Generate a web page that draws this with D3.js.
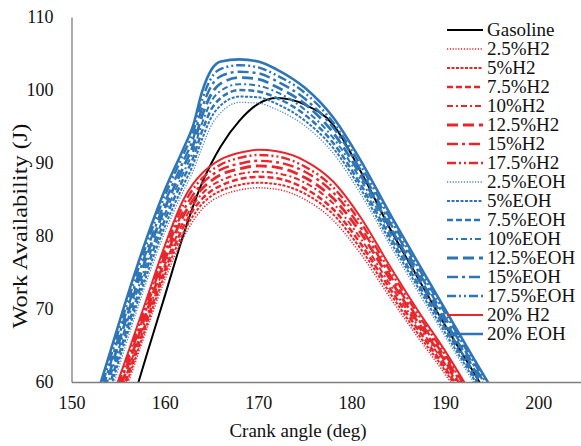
<!DOCTYPE html>
<html>
<head>
<meta charset="utf-8">
<script src="https://cdn.jsdelivr.net/npm/d3@7"></script>
<style>
  body { margin: 0; background: #fff; }
  svg { display: block; }
  text { font-family: "Liberation Serif", "Times New Roman", serif; fill: #111; }
</style>
</head>
<body>
<svg id="chart" width="581" height="446"></svg>
<script>
// Crank angle samples (deg) shared by every series
const crankAngles = [152, 154, 156, 158, 160, 162, 163, 164, 165, 166, 168, 170, 172, 175, 178, 181, 184, 187, 190, 193, 196];

// Work availability (J)
const gasoline = [38.0, 46.8, 55.0, 63.5, 71.8, 80.2, 84.0, 87.3, 90.0, 92.3, 95.8, 98.1, 98.9, 98.0, 95.3, 88.8, 81.3, 74.5, 67.8, 61.5, 55.0];

const h2_2_5  = [45.0, 52.5, 59.6, 67.0, 74.0, 79.8, 82.0, 83.7, 84.8, 85.5, 86.3, 86.6, 86.4, 85.0, 82.2, 77.5, 71.8, 66.3, 61.1, 55.2, 49.0];
const h2_5    = [45.6, 53.1, 60.2, 67.6, 74.7, 80.5, 82.7, 84.4, 85.5, 86.2, 87.0, 87.3, 87.1, 85.8, 83.0, 78.2, 72.4, 66.8, 61.6, 55.6, 49.4];
const h2_7_5  = [46.1, 53.6, 60.8, 68.2, 75.3, 81.3, 83.5, 85.1, 86.2, 86.9, 87.8, 88.1, 87.9, 86.5, 83.7, 78.9, 73.0, 67.4, 62.0, 56.0, 49.7];
const h2_10   = [46.7, 54.2, 61.4, 68.8, 76.0, 82.0, 84.2, 85.8, 86.9, 87.6, 88.5, 88.8, 88.6, 87.3, 84.5, 79.6, 73.6, 67.9, 62.5, 56.4, 50.1];
const h2_12_5 = [47.3, 54.8, 62.0, 69.4, 76.7, 82.8, 84.9, 86.5, 87.6, 88.4, 89.2, 89.6, 89.4, 88.0, 85.2, 80.4, 74.3, 68.4, 62.9, 56.8, 50.4];
const h2_15   = [47.9, 55.4, 62.6, 70.0, 77.4, 83.5, 85.6, 87.2, 88.3, 89.1, 89.9, 90.3, 90.1, 88.8, 86.0, 81.1, 74.9, 68.9, 63.4, 57.2, 50.8];
const h2_17_5 = [48.4, 55.9, 63.2, 70.6, 78.0, 84.3, 86.4, 87.9, 89.0, 89.8, 90.7, 91.1, 90.9, 89.5, 86.7, 81.8, 75.5, 69.5, 63.8, 57.6, 51.1];
const h2_20   = [49.0, 56.5, 63.8, 71.2, 78.7, 85.0, 87.1, 88.6, 89.7, 90.5, 91.4, 91.8, 91.6, 90.3, 87.5, 82.5, 76.1, 70.0, 64.3, 58.0, 51.5];

const eoh_2_5  = [49.2, 57.5, 65.8, 73.6, 80.5, 86.2, 88.8, 92.2, 95.2, 96.9, 98.3, 98.2, 97.3, 95.1, 91.4, 85.7, 79.0, 72.6, 66.3, 60.1, 53.9];
const eoh_5    = [50.1, 58.4, 66.7, 74.4, 81.3, 87.0, 89.7, 93.3, 96.3, 97.9, 99.1, 99.0, 98.1, 95.8, 92.1, 86.4, 79.6, 73.2, 66.8, 60.6, 54.3];
const eoh_7_5  = [50.9, 59.2, 67.5, 75.3, 82.2, 87.9, 90.6, 94.4, 97.4, 98.9, 100.0, 99.8, 98.9, 96.6, 92.8, 87.0, 80.2, 73.7, 67.4, 61.0, 54.8];
const eoh_10   = [51.8, 60.1, 68.4, 76.1, 83.0, 88.7, 91.5, 95.5, 98.5, 99.9, 100.8, 100.6, 99.7, 97.3, 93.5, 87.7, 80.8, 74.3, 67.9, 61.5, 55.2];
const eoh_12_5 = [52.6, 60.9, 69.2, 77.0, 83.8, 89.5, 92.3, 96.5, 99.5, 100.9, 101.7, 101.5, 100.4, 98.1, 94.2, 88.3, 81.5, 74.9, 68.4, 62.0, 55.7];
const eoh_15   = [53.5, 61.8, 70.1, 77.8, 84.6, 90.3, 93.2, 97.6, 100.6, 101.9, 102.5, 102.3, 101.2, 98.8, 94.9, 89.0, 82.1, 75.5, 68.9, 62.5, 56.1];
const eoh_17_5 = [54.3, 62.6, 70.9, 78.7, 85.5, 91.2, 94.1, 98.7, 101.7, 102.9, 103.4, 103.1, 102.0, 99.6, 95.6, 89.6, 82.7, 76.0, 69.5, 62.9, 56.6];
const eoh_20   = [55.2, 63.5, 71.8, 79.5, 86.3, 92.0, 95.0, 99.8, 102.8, 103.9, 104.2, 103.9, 102.8, 100.3, 96.3, 90.3, 83.3, 76.6, 70.0, 63.4, 57.0];

const seriesLabels = ["Gasoline",
  "2.5%H2", "5%H2", "7.5%H2", "10%H2", "12.5%H2", "15%H2", "17.5%H2",
  "2.5%EOH", "5%EOH", "7.5%EOH", "10%EOH", "12.5%EOH", "15%EOH", "17.5%EOH",
  "20% H2", "20% EOH"];
const seriesValues = [gasoline,
  h2_2_5, h2_5, h2_7_5, h2_10, h2_12_5, h2_15, h2_17_5,
  eoh_2_5, eoh_5, eoh_7_5, eoh_10, eoh_12_5, eoh_15, eoh_17_5,
  h2_20, eoh_20];

const xTicks = [150, 160, 170, 180, 190, 200];
const yTicks = [60, 70, 80, 90, 100, 110];

// ---- styling ----
const RED = "#e8262b", BLUE = "#2e75b6", BLACK = "#000";
const dashStyles = [
  { dash: "1.2,1.6", w: 1.5 },        // round dot
  { dash: "3,1.5", w: 2 },            // square dot
  { dash: "6,3", w: 2.5 },            // dash
  { dash: "6,3,2,3", w: 2 },          // dash dot
  { dash: "11,5", w: 2.8 },           // long dash
  { dash: "11,4,3,4", w: 2.4 },       // long dash dot
  { dash: "9,3,2,3,2,3", w: 2.4 }     // long dash dot dot
];
function styleFor(i) {
  if (i === 0) return { color: BLACK, dash: null, w: 2 };
  if (i >= 1 && i <= 7) return { color: RED, dash: dashStyles[i - 1].dash, w: dashStyles[i - 1].w };
  if (i >= 8 && i <= 14) {
    const s = dashStyles[i - 8];
    return { color: i === 8 ? "#4f88cc" : BLUE, dash: s.dash, w: i === 8 ? 1.3 : s.w };
  }
  if (i === 15) return { color: RED, dash: null, w: 2 };
  return { color: BLUE, dash: null, w: 2.6 };
}

const svg = d3.select("#chart");
const margin = { left: 71.5, top: 17, bottom: 382 };
const x = d3.scaleLinear().domain([150, 210]).range([margin.left, margin.left + 60 * 9.335]);
const y = d3.scaleLinear().domain([60, 110]).range([margin.bottom, margin.top]);

svg.append("defs").append("clipPath").attr("id", "plotClip")
  .append("rect").attr("x", margin.left).attr("y", 0)
  .attr("width", 581 - margin.left).attr("height", margin.bottom);

const line = d3.line()
  .x((d, i) => x(crankAngles[i]))
  .y(d => y(d))
  .curve(d3.curveMonotoneX);

const plot = svg.append("g").attr("clip-path", "url(#plotClip)");
seriesValues.forEach((vals, i) => {
  const s = styleFor(i);
  plot.append("path")
    .attr("d", line(vals))
    .attr("fill", "none")
    .attr("stroke", s.color)
    .attr("stroke-width", s.w)
    .attr("stroke-dasharray", s.dash)
    .attr("stroke-linejoin", "round");
});

// axes
const axisColor = "#7f7f7f";
const gx = svg.append("g").attr("transform", `translate(0,${margin.bottom})`)
  .call(d3.axisBottom(x).tickValues(xTicks).tickSize(0).tickPadding(14).tickFormat(d3.format("d")));
const gy = svg.append("g").attr("transform", `translate(${margin.left},0)`)
  .call(d3.axisLeft(y).tickValues(yTicks).tickSize(0).tickPadding(18).tickFormat(d3.format("d")));
[gx, gy].forEach(g => {
  g.select(".domain").attr("stroke", axisColor).attr("stroke-width", 1.3);
  g.selectAll("text").attr("font-size", 18).attr("fill", "#111")
    .attr("font-family", "'Liberation Serif','Times New Roman',serif");
});

svg.append("text").attr("x", 298).attr("y", 437).attr("text-anchor", "middle")
  .attr("font-size", 19).text("Crank angle (deg)");
svg.append("text").attr("transform", "translate(27,226) rotate(-90)")
  .attr("text-anchor", "middle").attr("font-size", 20)
  .attr("textLength", 205).attr("lengthAdjust", "spacingAndGlyphs")
  .text("Work Availability (J)");

// legend
const legend = svg.append("g");
seriesLabels.forEach((lab, i) => {
  const s = styleFor(i);
  const yy = 30 + i * 19.0;
  legend.append("line").attr("x1", 447).attr("x2", 483).attr("y1", yy).attr("y2", yy)
    .attr("stroke", s.color).attr("stroke-width", s.w).attr("stroke-dasharray", s.dash);
  legend.append("text").attr("x", 487).attr("y", yy).attr("dy", "0.33em")
    .attr("font-size", 19).text(lab);
});
</script>
</body>
</html>
